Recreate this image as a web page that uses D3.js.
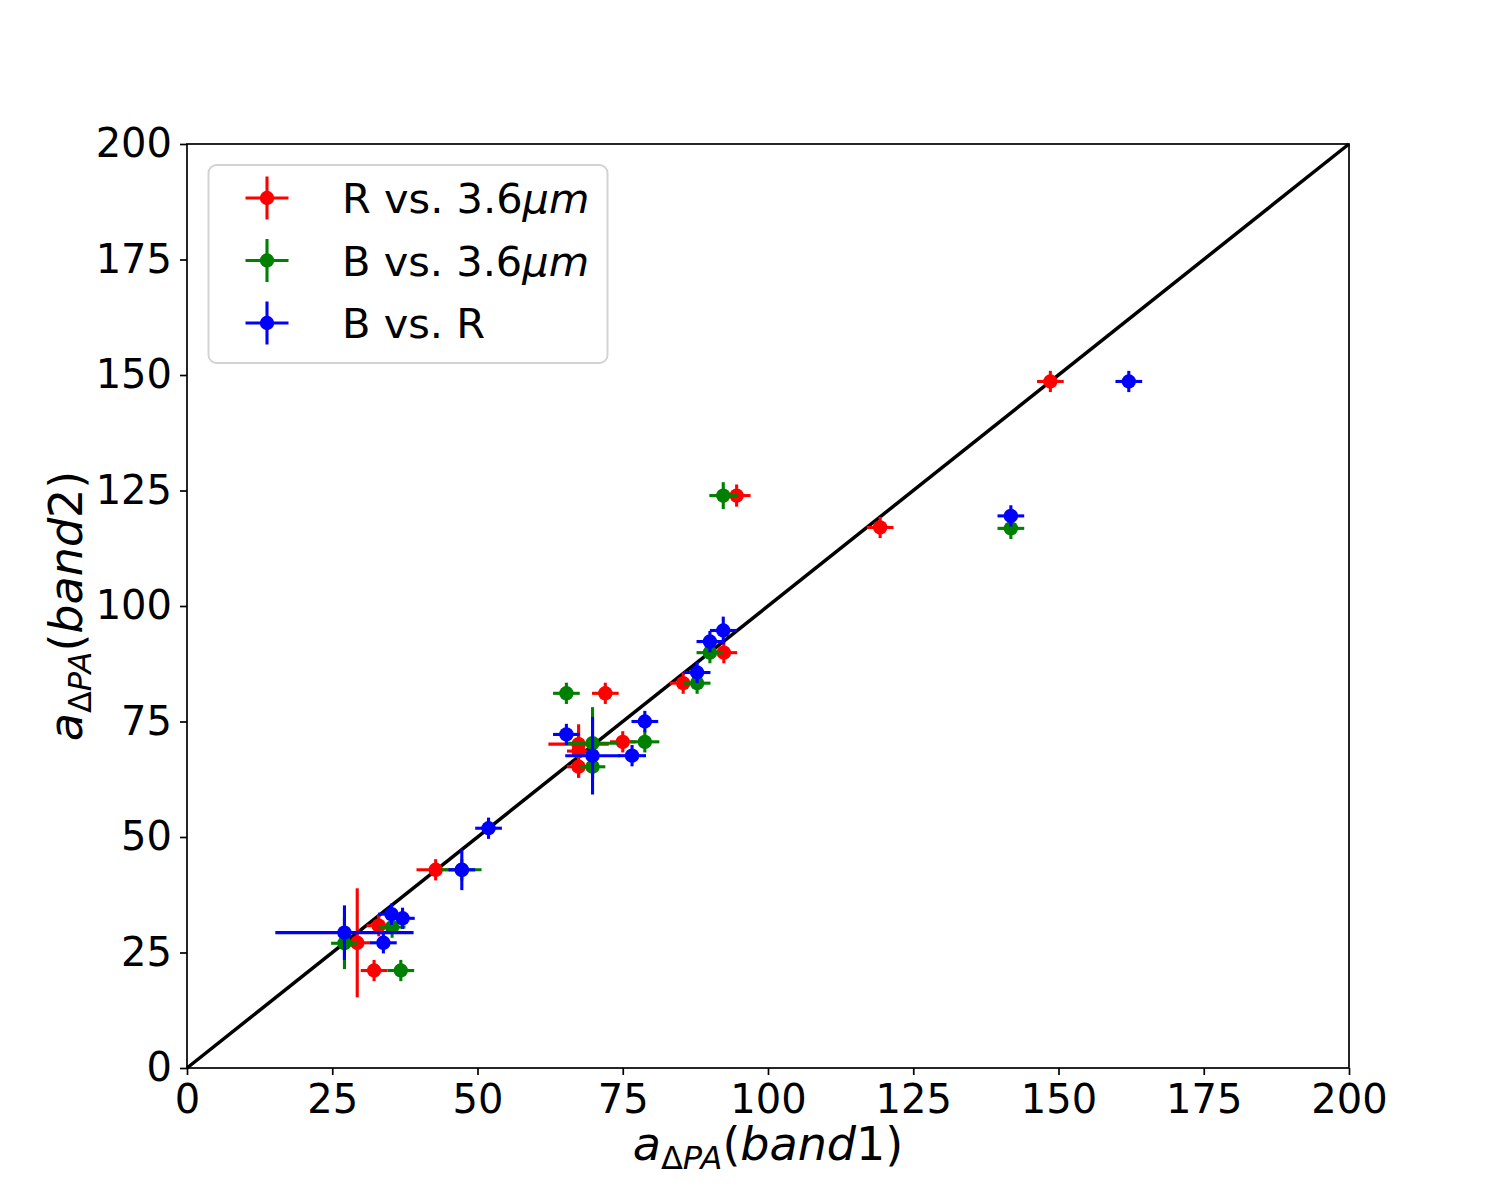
<!DOCTYPE html>
<html>
<head>
<meta charset="utf-8">
<script src="https://cdn.jsdelivr.net/npm/d3@7"></script>
<style>
body { margin: 0; background: #fff; }
text { font-family: "DejaVu Sans", sans-serif; fill: #000; }
</style>
</head>
<body>
<svg id="chart" width="1500" height="1200"></svg>
<script>
const width = 1500,
	height = 1200;

const margin = {left: 187, right: 151, top: 144, bottom: 132};

const xRange = [0, 200],
	yRange = [0, 200];

const tickValues = [0, 25, 50, 75, 100, 125, 150, 175, 200];

// R vs. 3.6um
const redX    = [148.6, 119.3, 94.6, 92.4, 85.4, 72.0, 75.0, 67.4, 67.4, 67.4, 42.8, 33.0, 29.3, 32.2];
const redY    = [148.6, 117.0, 123.9, 89.9, 83.3, 81.1, 70.6, 70.1, 68.6, 65.2, 42.9, 30.8, 27.1, 21.1];
const redXErr = [2.3, 2.3, 2.4, 2.3, 2.3, 2.3, 2.2, 5.2, 2.0, 2.0, 3.3, 2.1, 2.3, 2.3];
const redYErr = [2.3, 2.3, 2.4, 2.3, 2.3, 2.3, 2.3, 2.3, 5.8, 2.3, 2.3, 2.3, 11.8, 2.3];

// B vs. 3.6um
const greenX    = [141.8, 92.3, 90.0, 87.8, 65.3, 78.8, 69.8, 69.8, 47.3, 35.3, 27.1, 36.8];
const greenY    = [116.8, 123.9, 89.9, 83.3, 81.1, 70.6, 70.3, 65.2, 42.9, 30.5, 27.0, 21.1];
const greenXErr = [2.3, 2.4, 2.3, 2.3, 2.3, 2.5, 4.4, 2.2, 3.4, 2.3, 2.3, 2.3];
const greenYErr = [2.3, 2.9, 2.3, 2.3, 2.3, 2.3, 7.8, 2.3, 2.3, 2.3, 5.6, 2.3];

// B vs. R
const blueX    = [162.1, 141.8, 92.3, 90.0, 87.8, 78.8, 65.3, 69.8, 76.6, 51.9, 47.3, 35.2, 37.1, 27.1, 33.8];
const blueY    = [148.6, 119.5, 94.7, 92.3, 85.6, 75.0, 72.2, 67.6, 67.6, 51.9, 42.9, 33.3, 32.4, 29.3, 27.1];
const blueXErr = [2.3, 2.3, 2.3, 2.3, 2.3, 2.3, 2.3, 4.7, 2.4, 2.3, 2.3, 2.3, 2.1, 11.9, 2.3];
const blueYErr = [2.3, 2.3, 3.0, 2.3, 2.3, 2.3, 2.3, 8.4, 2.3, 2.3, 4.4, 2.3, 2.3, 5.9, 2.3];

const seriesNames = ["R vs. 3.6", "B vs. 3.6", "B vs. R"];
const seriesUnits = ["\u03bcm", "\u03bcm", ""];
const seriesColors = ["red", "green", "blue"];

const xScale = d3.scaleLinear()
	.domain(xRange)
	.range([margin.left, width - margin.right]);

const yScale = d3.scaleLinear()
	.domain(yRange)
	.range([height - margin.bottom, margin.top]);

const line = d3.line()
	.x(d => xScale(d.x))
	.y(d => yScale(d.y));

const chart = d3.select("#chart");

function toPoints(xs, ys, xe, ye) {
	return d3.range(0, xs.length).map(i => ({x: xs[i], y: ys[i], xe: xe[i], ye: ye[i]}));
}

const series = [
	toPoints(redX, redY, redXErr, redYErr),
	toPoints(greenX, greenY, greenXErr, greenYErr),
	toPoints(blueX, blueY, blueXErr, blueYErr)
];

function drawAxes() {
	chart.append("g")
		.attr("class", "x axis")
		.attr("transform", `translate(0,${yScale(0)})`)
		.call(d3.axisBottom(xScale).tickValues(tickValues).tickSize(7).tickSizeOuter(0).tickPadding(9.5));

	chart.append("g")
		.attr("class", "y axis")
		.attr("transform", `translate(${xScale(0)},0)`)
		.call(d3.axisLeft(yScale).tickValues(tickValues).tickSize(7).tickSizeOuter(0).tickPadding(8));

	chart.selectAll(".axis .domain").remove();
	chart.selectAll(".axis line")
		.attr("stroke", "black")
		.attr("stroke-width", 1.7);
	chart.selectAll(".axis text")
		.attr("font-family", "DejaVu Sans")
		.attr("font-size", 40)
		.attr("fill", "black");

	chart.append("rect")
		.attr("x", xScale(0))
		.attr("y", yScale(200))
		.attr("width", xScale(200) - xScale(0))
		.attr("height", yScale(0) - yScale(200))
		.attr("fill", "none")
		.attr("stroke", "black")
		.attr("stroke-width", 1.7);
}

function drawDiagonal() {
	chart.append("path")
		.datum([{x: 0, y: 0}, {x: 200, y: 200}])
		.attr("fill", "none")
		.attr("stroke", "black")
		.attr("stroke-width", 3.5)
		.attr("d", line);
}

function drawSeries(data, color) {
	const g = chart.append("g");

	g.selectAll("line.xerr")
		.data(data)
		.join("line")
		.attr("class", "xerr")
		.attr("x1", d => xScale(d.x - d.xe))
		.attr("x2", d => xScale(d.x + d.xe))
		.attr("y1", d => yScale(d.y))
		.attr("y2", d => yScale(d.y))
		.attr("stroke", color)
		.attr("stroke-width", 3.1);

	g.selectAll("line.yerr")
		.data(data)
		.join("line")
		.attr("class", "yerr")
		.attr("x1", d => xScale(d.x))
		.attr("x2", d => xScale(d.x))
		.attr("y1", d => yScale(d.y - d.ye))
		.attr("y2", d => yScale(d.y + d.ye))
		.attr("stroke", color)
		.attr("stroke-width", 3.1);

	g.selectAll("circle")
		.data(data)
		.join("circle")
		.attr("cx", d => xScale(d.x))
		.attr("cy", d => yScale(d.y))
		.attr("r", 7.2)
		.attr("fill", color);
}

function drawLegend() {
	const lg = chart.append("g");

	lg.append("rect")
		.attr("x", 208.5)
		.attr("y", 165)
		.attr("width", 399)
		.attr("height", 198)
		.attr("rx", 8)
		.attr("fill", "white")
		.attr("fill-opacity", 0.8)
		.attr("stroke", "#d3d3d3")
		.attr("stroke-width", 2);

	const rows = lg.selectAll("g.row")
		.data(seriesNames.map((d, i) => ({name: d, unit: seriesUnits[i], color: seriesColors[i], i: i})))
		.join("g")
		.attr("class", "row")
		.attr("transform", d => `translate(267,${198 + d.i * 62.5})`);

	rows.append("line")
		.attr("x1", -21.5).attr("x2", 21.5)
		.attr("stroke", d => d.color)
		.attr("stroke-width", 3.1);
	rows.append("line")
		.attr("y1", -21.5).attr("y2", 21.5)
		.attr("stroke", d => d.color)
		.attr("stroke-width", 3.1);
	rows.append("circle")
		.attr("r", 7.2)
		.attr("fill", d => d.color);

	const t = rows.append("text")
		.attr("x", 75)
		.attr("y", 15)
		.attr("font-size", 41.5);
	t.append("tspan").text(d => d.name);
	t.append("tspan").attr("font-style", "italic").text(d => d.unit);
}

function drawLabels() {
	const xl = chart.append("text")
		.attr("x", (xScale(0) + xScale(200)) / 2)
		.attr("y", 1160)
		.attr("text-anchor", "middle")
		.attr("font-size", 46);
	xl.append("tspan").attr("font-style", "italic").text("a");
	xl.append("tspan").attr("font-size", 32).attr("dy", 9).text("\u0394");
	xl.append("tspan").attr("font-size", 32).attr("font-style", "italic").text("PA");
	xl.append("tspan").attr("dy", -9).text("(");
	xl.append("tspan").attr("font-style", "italic").text("band");
	xl.append("tspan").text("1)");

	const yl = chart.append("text")
		.attr("transform", `translate(82,${(yScale(0) + yScale(200)) / 2}) rotate(-90)`)
		.attr("text-anchor", "middle")
		.attr("font-size", 46);
	yl.append("tspan").attr("font-style", "italic").text("a");
	yl.append("tspan").attr("font-size", 32).attr("dy", 9).text("\u0394");
	yl.append("tspan").attr("font-size", 32).attr("font-style", "italic").text("PA");
	yl.append("tspan").attr("dy", -9).text("(");
	yl.append("tspan").attr("font-style", "italic").text("band");
	yl.append("tspan").text("2)");
}

function draw() {
	chart.append("rect").attr("width", width).attr("height", height).attr("fill", "white");
	drawDiagonal();
	series.forEach((s, i) => drawSeries(s, seriesColors[i]));
	drawAxes();
	drawLegend();
	drawLabels();
}

draw();
</script>
</body>
</html>
